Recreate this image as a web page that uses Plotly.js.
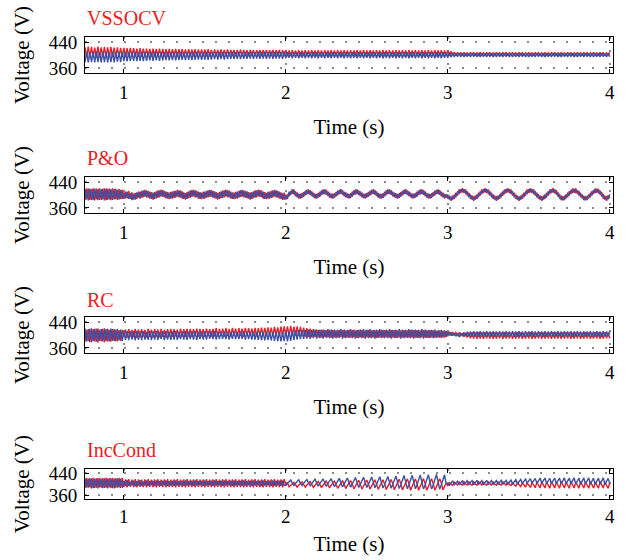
<!DOCTYPE html>
<html>
<head>
<meta charset="utf-8">
<script src="https://cdn.plot.ly/plotly-3.0.1.min.js"></script>
<style>html,body{margin:0;padding:0;background:#fff;}#chart{width:631px;height:560px;}</style>
</head>
<body>
<div id="chart"></div>
<script>
// Time axis: samples from 0.76 s to 4.00 s every 0.01 s
const tStart = 0.76, tStep = 0.01;
const panelTitles = ["VSSOCV", "P&O", "RC", "IncCond"];
const xTickVals = [1, 2, 3, 4];
const yTickVals = [360, 440];

const vssocvRed = [
 424,393,426,392,
 425,394,423,392,426,393,424,394,425,392,
 424,393,425,394,423,393,424,395,422,394,
 422,395,421,394,422,396,421,395,420,396,
 421,395,420,396,420,395,419,396,420,395,
 419,396,420,395,419,396,418,395,419,396,
 418,395,419,396,418,397,418,396,417,396,
 418,397,417,396,418,397,417,396,417,397,
 417,396,418,397,416,396,417,397,416,396,
 417,397,416,396,417,397,416,397,416,396,
 416,397,417,396,416,397,415,396,416,397,
 416,397,415,396,416,397,415,397,416,396,
 415,397,416,396,415,397,416,396,415,397,
 415,396,414,397,415,396,414,397,415,396,
 414,397,415,396,414,397,415,397,414,396,
 415,397,414,396,415,397,414,396,415,397,
 414,396,415,397,414,396,415,397,414,396,
 415,397,414,396,415,396,414,397,415,396,
 414,397,415,396,414,397,415,396,414,397,
 415,396,414,397,415,396,414,397,415,396,
 414,397,415,396,414,397,415,396,414,397,
 415,396,414,397,415,396,414,397,415,396,
 414,397,415,396,414,397,415,396,414,397,
 414,398,412,399,409,398,408,399,408,398,
 408,399,407,398,408,399,408,398,407,399,
 408,399,407,398,408,399,408,398,407,399,
 408,399,407,398,408,399,408,398,407,399,
 408,399,407,398,408,399,408,398,407,399,
 408,399,407,398,408,399,408,398,407,399,
 408,399,407,398,408,399,408,398,407,399,
 408,399,407,398,408,399,408,398,407,399,
 408,399,407,398,408,399,408,398,407,399,
 408,399,407,398,408,399,408,398,407,399,
 408
];
const vssocvBlue = [
 378,410,377,409,
 378,410,377,411,378,409,377,410,378,410,
 377,409,378,410,377,409,379,410,378,409,
 381,409,380,410,381,409,382,410,381,409,
 382,410,381,409,382,410,383,409,382,410,
 383,409,382,410,383,409,384,410,383,409,
 384,410,383,409,384,410,385,409,384,410,
 385,409,384,410,385,409,386,410,385,409,
 386,410,385,409,386,410,387,409,386,410,
 387,409,386,410,387,409,388,410,387,409,
 388,410,387,409,388,410,388,409,389,410,
 388,409,389,410,388,409,389,410,388,409,
 389,410,388,409,389,410,389,409,388,410,
 390,409,391,408,390,409,391,408,390,409,
 391,408,390,409,391,408,390,409,391,408,
 390,409,391,408,390,409,391,408,390,409,
 391,408,390,409,391,408,390,409,391,408,
 390,409,391,408,390,409,391,408,390,409,
 391,408,390,409,391,408,390,409,391,408,
 390,409,391,408,390,409,391,408,390,409,
 391,408,390,409,391,408,390,409,391,408,
 390,409,391,408,390,409,391,408,390,409,
 391,408,390,409,391,408,390,409,391,408,
 391,408,393,406,394,405,395,406,394,405,
 394,406,395,405,394,406,395,405,394,406,
 394,406,395,405,394,406,395,405,394,406,
 394,406,395,405,394,406,395,405,394,406,
 394,406,395,405,394,406,395,405,394,406,
 394,406,395,405,394,406,395,405,394,406,
 394,406,395,405,394,406,395,405,394,406,
 394,406,395,405,394,406,395,405,394,406,
 394,406,395,405,394,406,395,405,394,406,
 394,406,395,405,394,406,395,405,394,406,
 395
];

const pnoRed = [
 384,421,383,420,
 385,421,383,420,384,421,385,420,383,421,
 385,420,384,421,386,419,385,418,387,417,
 388,410,390,412,388,408,386,406,388,410,
 389,413,393,416,393,413,389,409,386,409,
 390,414,393,417,394,413,390,409,387,410,
 389,413,392,416,393,414,389,408,386,409,
 390,414,394,417,393,413,389,409,387,410,
 389,413,393,416,394,413,390,409,386,409,
 390,414,393,417,393,414,389,408,387,410,
 389,413,394,416,393,413,390,409,386,409,
 390,414,393,417,394,414,389,409,387,410,
 389,413,393,416,393,413,389,408,385,407,
 386,402,396,412,404,417,396,408,389,404,
 391,409,399,416,403,415,397,407,390,403,
 392,410,400,417,403,416,397,407,390,404,
 391,409,399,416,404,415,396,408,391,403,
 391,410,400,417,403,414,397,407,390,404,
 392,409,399,416,404,415,397,406,390,403,
 391,410,400,417,403,415,396,407,391,403,
 391,409,399,416,404,414,397,407,390,404,
 392,410,400,417,403,415,397,406,390,403,
 391,409,399,416,403,415,396,407,389,402,
 389,398,382,398,388,407,398,417,406,421,
 406,417,398,407,388,398,382,398,388,407,
 398,417,406,421,406,417,398,407,388,398,
 382,398,388,407,398,417,406,421,406,417,
 398,407,388,398,382,398,388,407,398,417,
 406,421,406,417,398,407,388,398,382,398,
 388,407,398,417,406,421,405,415,395,403,
 384,396,384,402,393,412,403,420,407,420,
 403,412,393,402,384,396,384,402,393,412,
 403,420,407,419,401,409,389,398,382,399,
 390
];
const pnoBlue = [
 419,386,420,385,
 418,384,420,386,419,385,418,386,420,384,
 419,386,418,385,419,387,417,386,416,388,
 408,390,410,388,405,384,404,386,408,392,
 410,392,414,395,414,392,410,388,407,388,
 411,392,414,396,415,393,410,389,407,389,
 410,391,413,395,414,392,411,388,406,388,
 411,392,415,396,414,393,410,388,407,389,
 410,392,414,395,415,392,411,389,406,388,
 411,391,414,396,414,393,410,388,407,389,
 410,392,415,395,414,392,411,389,407,388,
 411,392,414,396,415,393,410,388,406,389,
 410,391,414,395,414,392,410,388,405,386,
 400,388,410,400,418,402,411,393,404,389,
 405,395,413,402,417,401,411,393,404,389,
 406,395,414,402,417,401,411,392,404,389,
 405,396,413,403,418,401,410,393,405,389,
 405,395,414,402,417,400,411,393,404,390,
 406,395,413,402,418,401,411,392,404,389,
 405,396,414,403,417,401,410,393,405,389,
 405,395,413,402,418,400,411,393,404,390,
 406,395,414,402,417,401,411,392,404,389,
 405,396,413,403,417,401,410,393,403,392,
 401,386,394,386,400,395,410,405,418,409,
 418,405,410,395,400,386,394,386,400,395,
 410,405,418,409,418,405,410,395,400,386,
 394,386,400,395,410,405,418,409,418,405,
 410,395,400,386,394,386,400,395,410,405,
 418,409,418,405,410,395,400,386,394,386,
 400,395,410,405,418,409,417,403,407,391,
 396,384,396,390,405,400,415,408,419,408,
 415,400,405,390,396,384,396,390,405,400,
 415,408,419,407,413,397,401,386,394,387,
 402
];

const rcRed = [
 379,417,381,419,
 378,418,380,420,377,417,381,419,378,418,
 380,416,379,418,381,417,380,415,382,416,
 394,417,392,418,395,416,393,419,391,417,
 393,418,395,416,392,419,394,417,393,418,
 395,417,393,419,394,416,392,418,395,419,
 394,418,396,417,393,420,395,418,394,419,
 396,419,394,418,397,420,395,419,396,418,
 395,420,397,418,394,419,396,421,395,419,
 397,420,395,421,398,419,396,422,397,420,
 396,421,398,420,395,422,397,421,398,420,
 397,422,396,421,399,423,397,422,398,424,
 398,423,397,425,399,424,398,426,397,427,
 398,427,397,428,399,426,398,427,397,425,
 396,423,395,421,394,420,393,418,394,417,
 393,416,392,417,394,415,393,416,392,415,
 393,414,392,416,394,415,392,414,393,416,
 392,415,393,414,391,416,393,415,392,414,
 393,416,392,414,393,415,391,414,393,416,
 392,415,393,414,392,416,393,415,391,414,
 393,414,392,415,393,414,392,416,393,415,
 392,415,391,414,393,415,392,414,391,415,
 393,414,392,413,393,414,391,413,392,412,
 396,410,398,409,399,408,400,407,398,406,
 395,407,392,408,390,409,389,408,388,409,
 389,408,388,409,390,407,389,408,388,409,
 389,408,390,407,388,409,389,408,390,407,
 388,408,389,409,390,408,388,407,389,408,
 390,409,388,408,389,407,390,409,388,408,
 389,407,390,408,388,409,389,408,390,407,
 388,408,389,409,390,408,388,407,389,409,
 390,408,388,407,389,409,390,408,388,407,
 389,409,390,408,388,407,389,409,390,408,389
];
const rcBlue = [
 420,380,418,378,
 421,381,419,379,420,382,418,380,421,381,
 419,380,420,382,418,381,419,383,417,382,
 412,385,413,384,411,386,412,383,413,385,
 411,384,412,386,410,385,413,384,411,386,
 412,385,410,387,411,384,412,386,410,385,
 411,386,412,385,410,387,411,386,412,385,
 410,387,411,386,412,385,410,387,411,386,
 411,386,410,388,411,387,412,386,410,387,
 410,388,411,387,410,386,409,388,411,387,
 409,387,410,388,411,386,410,387,409,386,
 410,386,409,385,410,384,409,383,408,384,
 409,383,408,382,410,381,409,380,408,381,
 412,380,411,382,413,384,414,386,415,387,
 416,388,415,389,417,388,416,390,417,389,
 416,390,417,389,416,391,418,390,417,389,
 417,390,416,391,418,389,417,390,416,391,
 418,390,417,389,416,391,417,390,418,389,
 417,391,418,390,416,389,417,391,418,390,
 416,390,417,391,418,389,416,390,417,391,
 418,389,417,390,416,391,418,390,417,389,
 417,391,416,390,418,389,417,391,416,390,
 416,390,417,391,415,392,416,393,414,394,
 410,399,408,398,406,396,404,394,405,398,
 408,396,410,395,411,394,412,395,411,394,
 412,395,411,394,412,396,411,395,412,394,
 411,395,412,396,411,394,412,395,411,396,
 412,394,411,395,412,396,411,394,412,395,
 411,396,412,394,411,395,412,396,411,394,
 412,395,411,396,412,394,411,395,412,396,
 411,394,412,395,411,396,412,394,411,395,
 412,396,411,394,412,395,411,396,412,394,
 411,395,412,396,411,394,412,395,411,396,412
];

const incRed = [
 386,423,387,422,
 385,423,386,422,385,423,387,422,386,423,
 385,422,386,423,385,422,387,423,386,422,
 389,417,388,418,390,416,389,418,388,417,
 390,416,389,417,388,418,390,416,389,417,
 388,418,390,416,389,417,388,418,390,416,
 389,417,388,418,390,416,389,417,388,418,
 390,416,389,417,388,418,390,416,389,417,
 388,418,390,416,389,417,388,418,390,416,
 389,417,388,418,390,416,389,417,388,418,
 390,416,389,417,388,418,390,416,389,417,
 388,418,390,416,389,417,388,418,390,416,
 389,417,388,418,390,416,389,417,388,418,
 398,404,390,397,404,407,398,389,397,404,
 408,398,389,397,404,409,399,388,396,405,
 410,399,387,396,405,411,399,386,396,405,
 411,399,385,395,405,412,400,384,395,406,
 413,400,383,394,406,414,400,382,394,406,
 415,400,382,394,406,416,401,381,393,407,
 416,401,380,393,407,417,401,379,393,407,
 418,401,379,392,408,419,402,378,392,408,
 419,402,378,392,408,420,402,378,391,409,
 420,402,378,391,409,420,403,379,392,405,
 395,405,399,396,407,401,397,408,400,397,
 409,401,397,409,400,396,408,400,397,409,
 401,397,409,400,396,408,401,397,409,400,
 396,408,400,397,409,401,396,408,399,395,
 407,398,393,406,397,391,405,396,389,404,
 395,388,406,396,387,407,395,386,408,396,
 386,408,395,385,409,396,386,408,395,385,
 409,396,386,408,395,385,409,396,386,408,
 395,385,409,396,386,408,395,385,409,396,
 386,408,395,385,409,396,386,408,395,385,406
];
const incBlue = [
 421,387,420,388,
 421,386,420,387,421,388,420,386,421,387,
 420,388,421,386,420,387,421,388,420,387,
 412,393,415,394,409,396,413,392,411,395,
 414,393,410,395,413,394,411,396,412,393,
 413,395,411,394,412,396,413,394,411,395,
 412,394,413,395,411,396,412,394,413,395,
 411,396,412,394,413,395,411,396,412,394,
 413,395,411,396,412,394,413,395,411,396,
 412,394,413,395,411,396,412,394,413,395,
 411,396,412,394,413,395,411,396,412,394,
 413,395,411,396,412,394,413,395,411,396,
 412,394,413,395,411,396,412,394,413,395,
 396,403,410,415,404,395,403,410,416,404,
 395,403,411,417,405,394,402,411,418,405,
 393,402,411,419,405,392,402,412,420,405,
 391,401,412,421,406,390,401,412,422,406,
 389,400,412,424,406,388,400,413,425,406,
 388,400,413,426,407,387,399,413,427,407,
 386,399,414,428,407,385,399,414,430,407,
 384,398,415,431,408,383,398,415,432,408,
 383,398,416,433,408,382,397,416,434,408,
 382,397,417,435,409,381,397,417,434,400,
 400,396,404,412,398,403,411,399,404,412,
 398,405,413,399,405,413,398,406,414,399,
 405,413,398,406,414,400,406,413,399,405,
 413,400,406,414,399,406,414,400,407,415,
 401,408,416,402,409,417,403,410,418,404,
 411,420,404,412,421,403,412,422,404,413,
 422,403,412,421,402,412,422,403,413,422,
 402,412,423,401,411,422,402,412,423,401,
 411,422,400,411,423,401,412,423,400,411,
 422,399,410,422,400,411,423,399,410,421,402
];

const seriesRed = [vssocvRed, pnoRed, rcRed, incRed];
const seriesBlue = [vssocvBlue, pnoBlue, rcBlue, incBlue];

const RED = '#ed1c24', BLUE = '#3d4fa3';
const W = 631, H = 560;
const FONT = 'Liberation Serif, Times New Roman, serif';
// pixel geometry of the four boxes (top, bottom)
const boxes = [[37.3, 72.7], [177.3, 212.7], [317.3, 352.7], [469, 499.3]];
const tickStand = [2, 2, 2, 0];
const titleStand = [17, 17, 17, 10];
const titleY = [18, 158, 300, 450];

const data = [];
const layout = {
  width: W, height: H,
  margin: {l: 0, r: 0, t: 0, b: 0},
  paper_bgcolor: '#fff', plot_bgcolor: '#fff',
  showlegend: false,
  font: {family: FONT, size: 19, color: '#000'},
  annotations: []
};
for (let k = 0; k < 4; k++) {
  const sx = k === 0 ? '' : String(k + 1);
  const xa = 'x' + sx, ya = 'y' + sx;
  data.push({type: 'scatter', mode: 'lines', x0: tStart, dx: tStep, y: seriesRed[k],
    line: {color: RED, width: 1.4}, xaxis: xa, yaxis: ya, hoverinfo: 'skip', name: panelTitles[k] + ' red'});
  data.push({type: 'scatter', mode: 'lines', x0: tStart, dx: tStep, y: seriesBlue[k],
    line: {color: BLUE, width: 1.4}, xaxis: xa, yaxis: ya, hoverinfo: 'skip', name: panelTitles[k] + ' blue'});
  const grid = {showgrid: true, gridcolor: '#8a8a8a', gridwidth: 1.5, griddash: '1.5px,11.5px'};
  layout['xaxis' + sx] = Object.assign({
    domain: [85 / W, 613 / W], range: [0.76, 4.02], anchor: ya,
    tickvals: xTickVals, ticktext: xTickVals.map(String),
    ticks: 'inside', ticklen: 4, tickcolor: '#000',
    showline: true, mirror: 'ticks', linecolor: '#000', linewidth: 1,
    zeroline: false, ticklabelstandoff: tickStand[k],
    tickfont: {family: FONT, size: 19, color: '#000'},
    title: {text: 'Time (s)', font: {family: FONT, size: 21, color: '#000'}, standoff: titleStand[k]}
  }, grid);
  layout['yaxis' + sx] = Object.assign({
    domain: [1 - boxes[k][1] / H, 1 - boxes[k][0] / H], range: [345, 455], anchor: xa,
    tickvals: yTickVals, ticktext: yTickVals.map(String),
    ticks: 'inside', ticklen: 4, tickcolor: '#000',
    showline: true, mirror: 'ticks', linecolor: '#000', linewidth: 1,
    zeroline: false, ticklabelstandoff: 3,
    tickfont: {family: FONT, size: 19, color: '#000'},
    title: {text: 'Voltage (V)', font: {family: FONT, size: 21, color: '#000'}, standoff: 13}
  }, grid);
  layout.annotations.push({
    text: panelTitles[k], xref: 'paper', yref: 'paper',
    x: 85 / W, y: 1 - titleY[k] / H, xanchor: 'left', yanchor: 'middle',
    showarrow: false, font: {family: FONT, size: 20, color: RED}
  });
}
Plotly.newPlot('chart', data, layout, {displayModeBar: false, staticPlot: true});
</script>
</body>
</html>
